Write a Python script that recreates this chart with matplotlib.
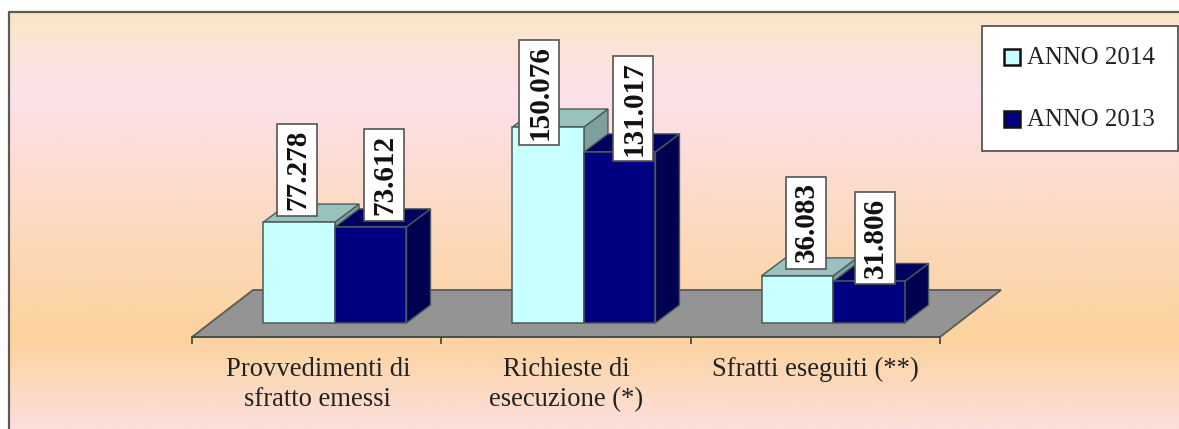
import matplotlib
matplotlib.use('Agg')
from matplotlib import pyplot as plt
from matplotlib.colors import LinearSegmentedColormap
from matplotlib.patches import Polygon, Rectangle
import numpy as np

categories = ['Provvedimenti di\nsfratto emessi', 'Richieste di\nesecuzione (*)', 'Sfratti eseguiti (**)']
anno_2014 = [77278, 150076, 36083]
anno_2013 = [73612, 131017, 31806]
labels_2014 = ['77.278', '150.076', '36.083']
labels_2013 = ['73.612', '131.017', '31.806']

W, H = 1179, 429
plt.rcParams['font.family'] = ['Liberation Serif', 'DejaVu Sans']
fig = plt.figure(figsize=(W / 100, H / 100), dpi=100, facecolor='white')

# sfondo sfumato
bg = fig.add_axes([0, 0, 1, 1])
bg.set_xlim(0, W)
bg.set_ylim(H, 0)
bg.axis('off')
stops = [(0.0, '#fbe6c6'), (0.2, '#fce1ea'), (0.78, '#fcd39c'), (1.0, '#fcdfdc')]
cmap = LinearSegmentedColormap.from_list('sfondo', stops)
bg.imshow(np.linspace(0, 1, 256).reshape(-1, 1), cmap=cmap, aspect='auto', extent=(9, W, H, 12))
bg.set_xlim(0, W)
bg.set_ylim(H, 0)
bg.plot([9, 9, W], [H, 12, 12], color='#5f5a55', lw=1.6, solid_capstyle='butt')

# assi: 249.3 px per categoria, 0.001306 px per unita
px_x = 249.33
px_y = 0.001306
ax = fig.add_axes([192 / W, (H - 337) / H, 748 / W, 325 / H])
ax.patch.set_alpha(0)
ax.set_xlim(0, 3)
ax.set_ylim(-14 / px_y, 311 / px_y)
for s in ['top', 'left', 'right']:
    ax.spines[s].set_visible(False)
ax.spines['bottom'].set_color('#4a4a4a')
ax.spines['bottom'].set_linewidth(1.2)
ax.set_yticks([])
ax.set_xticks([0, 1, 2, 3])
ax.set_xticklabels([])
ax.tick_params(axis='x', length=5, width=1.1, color='#333333')
ax.set_xticks([0.505, 1.5, 2.5], labels=categories, minor=True)
ax.tick_params(axis='x', which='minor', length=0, pad=14.5, labelsize=19.2, labelcolor='#222222')
for t in ax.get_xticklabels(minor=True):
    t.set_linespacing(1.28)


def box(x0, width, value, front, top, side):
    # barra 3D: faccia frontale piu tetto e fianco spostati
    dx = 24 / px_x
    dy = 18 / px_y
    edge = '#4a5a5a'
    x1 = x0 + width
    ax.add_patch(Polygon([(x1, 0), (x1 + dx, dy), (x1 + dx, value + dy), (x1, value)],
                         facecolor=side, edgecolor=edge, lw=1))
    ax.add_patch(Polygon([(x0, value), (x0 + dx, value + dy), (x1 + dx, value + dy), (x1, value)],
                         facecolor=top, edgecolor=edge, lw=1))
    ax.bar(x0, value, width, align='edge', color=front, edgecolor=edge, lw=1.1)


# pavimento grigio
ax.add_patch(Polygon([(0, -14 / px_y), (61 / px_x, 33 / px_y), (3 + 61 / px_x, 33 / px_y), (3, -14 / px_y)],
                     facecolor='#949494', edgecolor='#5a5a5a', lw=1.3, clip_on=False))

w = 71.5 / px_x
mid = [0.5735, 1.572, 2.571]
for i in range(3):
    box(mid[i] - w, w, anno_2014[i], '#c8ffff', '#99c2bf', '#7f9f9e')
    box(mid[i], w, anno_2013[i], '#000080', '#000060', '#000050')

# legenda ed etichette ruotate su un asse in pixel
ov = fig.add_axes([0, 0, 1, 1])
ov.patch.set_alpha(0)
ov.set_xlim(0, W)
ov.set_ylim(H, 0)
ov.axis('off')

centers_2014 = [(296.5, 170), (539, 92.5), (805.5, 222.5)]
centers_2013 = [(384, 174.5), (633, 108.5), (874.5, 238)]
for (cx, cy), s in zip(centers_2014 + centers_2013, labels_2014 + labels_2013):
    bw, bh = 40, 92 if len(s) == 6 else 105
    ov.add_patch(Rectangle((cx - bw / 2, cy - bh / 2), bw, bh, facecolor='white', edgecolor='#555555', lw=1.2, zorder=5))
    ov.text(cx + 1, cy, s, rotation=90, ha='center', va='center', fontsize=21, fontweight='bold',
            color='#111111', zorder=6)

ov.add_patch(Rectangle((982, 26), 196, 125, facecolor='white', edgecolor='#555555', lw=1.3))
for name, color, y in [('ANNO 2014', '#c8ffff', 57), ('ANNO 2013', '#000080', 119)]:
    ov.add_patch(Rectangle((1004, y - 8), 16, 16, facecolor=color, edgecolor='#111111', lw=1.8))
    ov.text(1027, y + 1, name, fontsize=17.9, va='center', ha='left', color='#222222')

fig.savefig('out.png', dpi=100)
